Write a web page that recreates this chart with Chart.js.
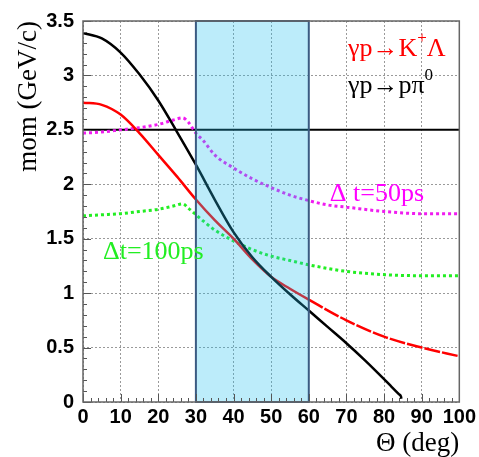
<!DOCTYPE html>
<html>
<head>
<meta charset="utf-8">
<script src="https://cdn.jsdelivr.net/npm/chart.js@4.4.1/dist/chart.umd.min.js"></script>
<style>
  html, body { margin: 0; padding: 0; background: #fff; }
  #wrap { width: 479px; height: 457px; }
</style>
</head>
<body>
<div id="wrap"><canvas id="grafica" width="479" height="457"></canvas></div>
<script>
// Datos (angulo en grados, momento en GeV/c)
const anguloPi0 = [0, 5, 10, 15, 20, 25, 30, 35, 40, 45, 50, 55, 60, 65, 70, 75, 80, 82, 84, 84.5, 84.6];
const momPi0 = [3.39, 3.34, 3.21, 3.01, 2.77, 2.48, 2.18, 1.86, 1.56, 1.33, 1.15, 0.99, 0.84, 0.69, 0.54, 0.38, 0.21, 0.14, 0.07, 0.05, 0.03];

const anguloKL = [0, 5, 10, 15, 20, 25, 30, 35, 40, 45, 50, 55, 60, 70, 80, 90, 100];
const momKL = [2.75, 2.73, 2.64, 2.47, 2.27, 2.07, 1.86, 1.67, 1.5, 1.31, 1.15, 1.04, 0.94, 0.75, 0.6, 0.5, 0.42];

const angulo50 = [0, 5, 10, 15, 20, 24, 26.5, 28, 30, 32, 35, 40, 45, 50, 55, 60, 65, 70, 80, 90, 100];
const mom50 = [2.47, 2.48, 2.5, 2.52, 2.55, 2.59, 2.61, 2.57, 2.47, 2.4, 2.27, 2.15, 2.05, 1.97, 1.9, 1.85, 1.81, 1.79, 1.75, 1.73, 1.73];

const angulo100 = [0, 5, 10, 15, 20, 24, 26.5, 28, 30, 35, 40, 45, 50, 55, 60, 70, 80, 90, 100];
const mom100 = [1.71, 1.72, 1.73, 1.75, 1.77, 1.8, 1.82, 1.78, 1.72, 1.58, 1.48, 1.4, 1.34, 1.3, 1.26, 1.2, 1.17, 1.16, 1.16];

const anguloLimite = [0, 100];
const momLimite = [2.5, 2.5];

// Ventana angular sombreada
const ventana = [30, 60];

function puntos(xs, ys) {
    return xs.map((v, i) => ({ x: v, y: ys[i] }));
}

const serif = "'Liberation Serif', 'Times New Roman', serif";
const sans = "'Liberation Sans', Arial, sans-serif";

// Dibuja un texto con partes en superindice
function textoCompuesto(ctx, partes, x, y, color) {
    ctx.fillStyle = color;
    ctx.textBaseline = 'alphabetic';
    ctx.textAlign = 'left';
    let cx = x;
    partes.forEach(p => {
        ctx.font = (p.sup ? '17px ' : '26px ') + serif;
        ctx.fillText(p.t, cx, p.sup ? y - 13 : y);
        cx += ctx.measureText(p.t).width;
    });
}

const marcoPlugin = {
    id: 'marco',
    beforeDraw(chart) {
        const ctx = chart.ctx;
        ctx.save();
        ctx.fillStyle = '#fff';
        ctx.fillRect(0, 0, chart.width, chart.height);
        ctx.restore();
    },
    afterDatasetsDraw(chart) {
        const { ctx, scales: { x, y } } = chart;
        const x0 = x.getPixelForValue(ventana[0]);
        const x1 = x.getPixelForValue(ventana[1]);
        const yt = y.getPixelForValue(y.max);
        const yb = y.getPixelForValue(y.min);
        ctx.save();
        ctx.fillStyle = 'rgba(33, 193, 240, 0.3)';
        ctx.fillRect(x0, yt, x1 - x0, yb - yt);
        ctx.strokeStyle = '#3b5b82';
        ctx.lineWidth = 2;
        ctx.strokeRect(x0, yt, x1 - x0, yb - yt);
        ctx.restore();
    },
    afterDraw(chart) {
        const { ctx, chartArea: a, scales: { x, y } } = chart;
        ctx.save();
        // marcas menores y mayores hacia dentro
        ctx.strokeStyle = '#555';
        ctx.lineWidth = 1;
        ctx.beginPath();
        for (let v = 0; v <= 100; v += 2) {
            const px = Math.round(x.getPixelForValue(v)) + 0.5;
            const l = v % 10 === 0 ? 8 : 4;
            ctx.moveTo(px, a.bottom);
            ctx.lineTo(px, a.bottom - l);
        }
        for (let k = 0; k <= 35; k++) {
            const py = Math.round(y.getPixelForValue(k / 10)) + 0.5;
            const l = k % 5 === 0 ? 8 : 4;
            ctx.moveTo(a.left, py);
            ctx.lineTo(a.left + l, py);
        }
        ctx.stroke();
        // marco
        ctx.strokeStyle = '#666';
        ctx.lineWidth = 1.5;
        ctx.strokeRect(a.left, a.top, a.right - a.left, a.bottom - a.top);
        ctx.restore();

        ctx.save();
        textoCompuesto(ctx, [{ t: 'γp→K' }, { t: '+', sup: true }, { t: 'Λ' }],
            x.getPixelForValue(70.4), y.getPixelForValue(3.18), '#ff0000');
        textoCompuesto(ctx, [{ t: 'γp→pπ' }, { t: '0', sup: true }],
            x.getPixelForValue(70.4), y.getPixelForValue(2.84), '#000');
        textoCompuesto(ctx, [{ t: 'Δ t=50ps' }],
            x.getPixelForValue(65.6), y.getPixelForValue(1.85), '#ff00ff');
        textoCompuesto(ctx, [{ t: 'Δt=100ps' }],
            x.getPixelForValue(5.3), y.getPixelForValue(1.31), '#22ee22');
        ctx.restore();
    }
};

const ctx = document.getElementById('grafica').getContext('2d');

window.myChart = new Chart(ctx, {
    type: 'line',
    data: {
        datasets: [
            {
                label: 'γp→pπ0',
                data: puntos(anguloPi0, momPi0),
                borderColor: '#000',
                borderWidth: 2.5,
                pointRadius: 0,
                cubicInterpolationMode: 'monotone'
            },
            {
                label: 'γp→K+Λ',
                data: puntos(anguloKL, momKL),
                borderColor: '#ff0000',
                borderWidth: 2.5,
                pointRadius: 0,
                cubicInterpolationMode: 'monotone',
                segment: {
                    borderDash: c => c.p0.parsed.x >= 60 ? [16, 2] : undefined
                }
            },
            {
                label: 'Δt=50ps',
                data: puntos(angulo50, mom50),
                borderColor: '#f01cf0',
                borderWidth: 3,
                borderDash: [3, 3],
                pointRadius: 0,
                cubicInterpolationMode: 'monotone'
            },
            {
                label: 'Δt=100ps',
                data: puntos(angulo100, mom100),
                borderColor: '#22ee22',
                borderWidth: 3,
                borderDash: [3, 3],
                pointRadius: 0,
                cubicInterpolationMode: 'monotone'
            },
            {
                label: 'limite',
                data: puntos(anguloLimite, momLimite),
                borderColor: '#000',
                borderWidth: 2,
                pointRadius: 0
            }
        ]
    },
    options: {
        responsive: false,
        animation: false,
        events: [],
        layout: { padding: { top: 17, right: 18, left: 0, bottom: 0 } },
        plugins: {
            legend: { display: false },
            tooltip: { enabled: false }
        },
        scales: {
            x: {
                type: 'linear',
                min: 0,
                max: 100,
                afterFit: s => { s.height = 55; },
                ticks: {
                    stepSize: 10,
                    padding: 3,
                    color: '#000',
                    maxRotation: 0,
                    minRotation: 0,
                    autoSkip: false,
                    callback: v => String(v),
                    font: { family: sans, size: 20, weight: 'bold' }
                },
                grid: { color: '#9a9a9a', drawTicks: false, lineWidth: 1 },
                border: { display: false, dash: [2, 2] },
                title: {
                    display: true,
                    text: 'Θ (deg)',
                    align: 'end',
                    color: '#000',
                    padding: 0,
                    font: { family: serif, size: 27, lineHeight: 1 }
                }
            },
            y: {
                type: 'linear',
                min: 0,
                max: 3.5,
                afterFit: s => { s.width = 83; },
                ticks: {
                    stepSize: 0.5,
                    padding: 9,
                    color: '#000',
                    callback: v => String(v),
                    font: { family: sans, size: 20, weight: 'bold' }
                },
                grid: { color: '#9a9a9a', drawTicks: false, lineWidth: 1 },
                border: { display: false, dash: [2, 2] },
                title: {
                    display: true,
                    text: 'mom (GeV/c)',
                    align: 'end',
                    color: '#000',
                    padding: { top: 15, bottom: 0 },
                    font: { family: serif, size: 27, lineHeight: 1 }
                }
            }
        }
    },
    plugins: [marcoPlugin]
});
</script>
</body>
</html>
